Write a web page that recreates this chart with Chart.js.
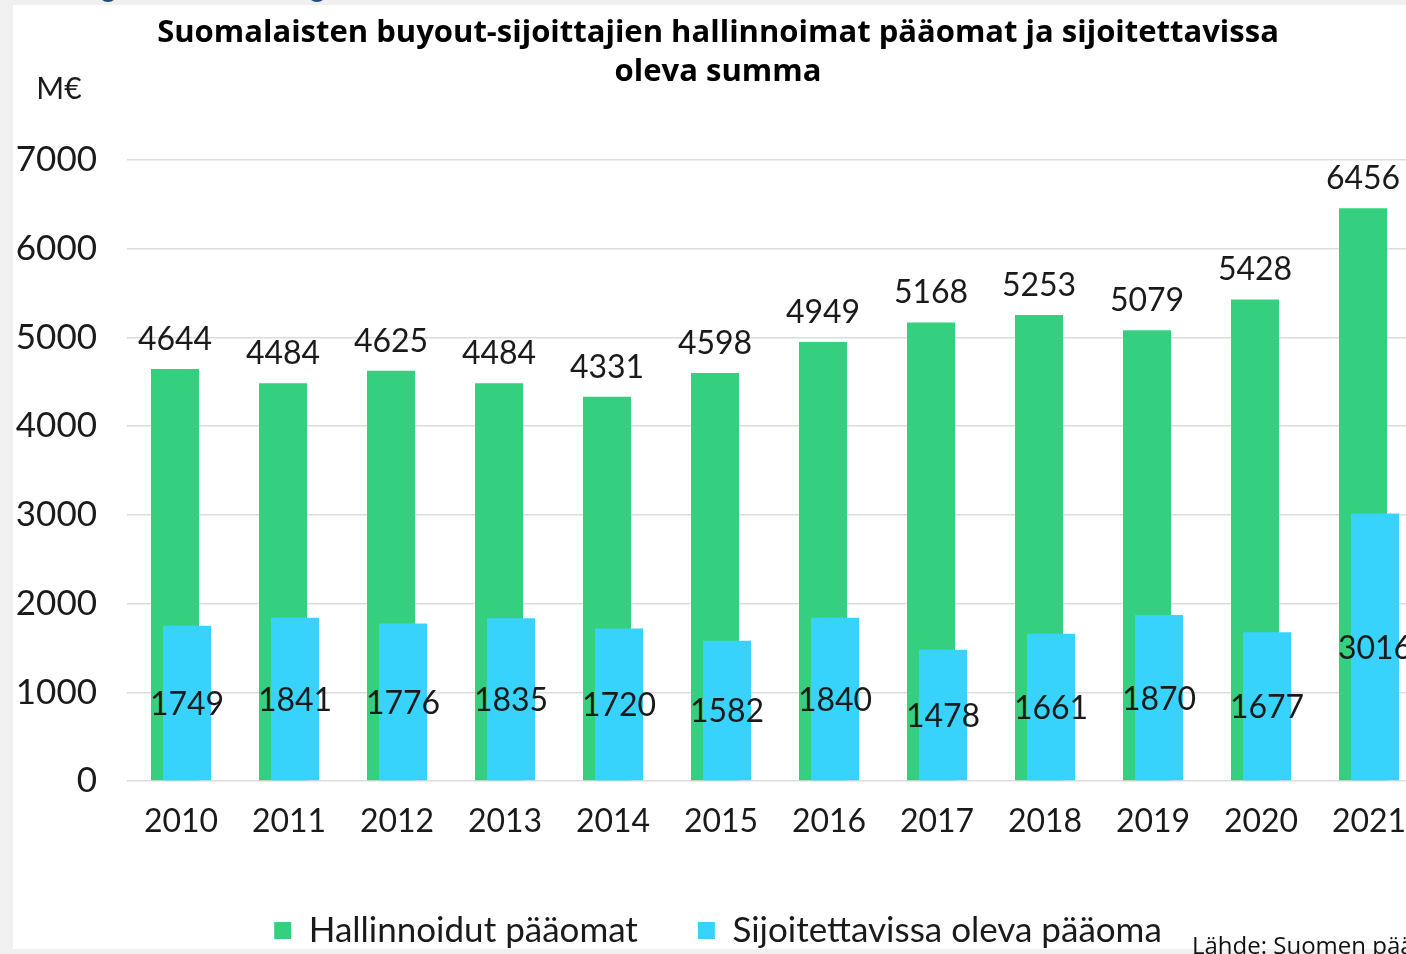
<!DOCTYPE html>
<html>
<head>
<meta charset="utf-8">
<script src="https://cdn.jsdelivr.net/npm/chart.js@4.4.1/dist/chart.umd.min.js"></script>
<style>
  html, body { margin: 0; padding: 0; }
  body { width: 1406px; height: 954px; overflow: hidden; background: #f0f0f0; position: relative; }
  #panel { position: absolute; left: 13px; top: 5px; width: 1400px; height: 944px; background: #fff; }
  .dot { position: absolute; top: -18px; width: 20px; height: 20px; border-radius: 50%; background: #1d4d78; }
  #wrap { position: absolute; left: 0; top: 0; width: 1423px; height: 960px; }
  #source { position: absolute; left: 1192px; top: 928px; font-family: "Open Sans", sans-serif; font-size: 24px; color: #111; white-space: nowrap; }
</style>
</head>
<body>
<div id="panel"></div>
<div class="dot" style="left:98px"></div>
<div class="dot" style="left:307px"></div>
<div id="wrap"><canvas id="chart"></canvas></div>
<div id="source">Lähde: Suomen pääomasijoitusyhdistys</div>
<script>
// ── Data ──
const years = ["2010", "2011", "2012", "2013", "2014", "2015", "2016", "2017", "2018", "2019", "2020", "2021"];
const managedCapital = [4644, 4484, 4625, 4484, 4331, 4598, 4949, 5168, 5253, 5079, 5428, 6456];
const investableCapital = [1749, 1841, 1776, 1835, 1720, 1582, 1840, 1478, 1661, 1870, 1677, 3016];
const yTicks = [0, 1000, 2000, 3000, 4000, 5000, 6000, 7000];

const GREEN = "#35d07f", BLUE = "#38d3fd", TEXT = "#1a1a1a", GRID = "#dcdcdc";
const FONT = "Lato, 'Open Sans', sans-serif";

// value labels: green above the bar, blue centred inside
const valueLabels = {
  id: "valueLabels",
  afterDatasetsDraw(chart) {
    const ctx = chart.ctx;
    ctx.save();
    ctx.font = "32px " + FONT;
    ctx.fillStyle = TEXT;
    ctx.textAlign = "center";
    ctx.textBaseline = "alphabetic";
    chart.getDatasetMeta(0).data.forEach((bar, i) => {
      ctx.fillText(String(managedCapital[i]), bar.x, bar.y - 19);
    });
    chart.getDatasetMeta(1).data.forEach((bar, i) => {
      ctx.fillText(String(investableCapital[i]), bar.x, (bar.y + bar.base) / 2 + 12);
    });
    // unit label above the y axis
    ctx.font = "30px " + FONT;
    ctx.fillText("M€", 59, 99);
    ctx.restore();
  }
};

new Chart(document.getElementById("chart"), {
  type: "bar",
  data: {
    labels: years,
    datasets: [
      {
        label: "Hallinnoidut pääomat",
        data: managedCapital,
        backgroundColor: GREEN,
        stack: "g",
        order: 1
      },
      {
        label: "Sijoitettavissa oleva pääoma",
        data: investableCapital,
        backgroundColor: BLUE,
        stack: "b",
        order: 0
      },
      // empty helper so the green slot sits left while blue is drawn on top
      { label: "", data: [], stack: "g", order: -1 }
    ]
  },
  options: {
    responsive: true,
    maintainAspectRatio: false,
    animation: false,
    categoryPercentage: 24 / 108,
    barPercentage: 4,
    layout: { padding: { left: 13, right: 0, top: 0, bottom: 2 } },
    plugins: {
      title: {
        display: true,
        text: ["Suomalaisten buyout-sijoittajien hallinnoimat pääomat ja sijoitettavissa", "oleva summa"],
        color: "#000",
        font: { family: "'Open Sans', sans-serif", size: 31, weight: "bold", lineHeight: 1.26 },
        padding: { top: 14, bottom: 67.8 }
      },
      legend: {
        position: "bottom",
        labels: {
          color: TEXT,
          font: { family: FONT, size: 35 },
          boxWidth: 17,
          boxHeight: 17,
          padding: 60,
          filter: (item) => item.text !== "",
          sort: (a, b) => a.datasetIndex - b.datasetIndex
        }
      },
      tooltip: { enabled: false }
    },
    scales: {
      x: {
        grid: { display: false },
        border: { display: false },
        ticks: { color: TEXT, font: { family: FONT, size: 32 }, padding: 13, maxRotation: 0 },
        afterFit: (scale) => { scale.height = 72; }
      },
      y: {
        min: 0,
        max: 7000,
        afterBuildTicks: (scale) => { scale.ticks = yTicks.map((v) => ({ value: v })); },
        grid: { color: GRID, lineWidth: 1.5, drawTicks: false },
        border: { display: false },
        ticks: { color: TEXT, font: { family: FONT, size: 35 }, padding: 30, callback: (v) => String(v) },
        afterFit: (scale) => { scale.width = 114; }
      }
    }
  },
  plugins: [valueLabels]
});
</script>
</body>
</html>
